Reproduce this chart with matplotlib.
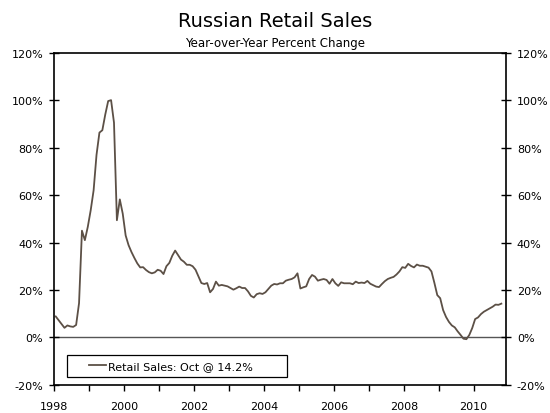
import numpy as np
import matplotlib
matplotlib.use("Agg")
import matplotlib.pyplot as plt
from matplotlib.legend_handler import HandlerLine2D
from matplotlib.ticker import FuncFormatter

# Russian retail sales, year-over-year % change, monthly Jan 1998 - Oct 2010
sales = [
    8.8, 7.2, 5.6, 4.0, 5.0, 4.6, 4.4, 5.2, 14.4, 45.0, 41.0, 46.6,          # 1998
    53.6, 62.0, 77.0, 86.4, 87.4, 94.0, 99.7, 100.1, 90.6, 49.4, 58.2, 52.2,  # 1999
    43.0, 38.9, 36.0, 33.5, 31.2, 29.5, 29.6, 28.4, 27.5, 27.0, 27.4, 28.5,   # 2000
    28.1, 26.7, 30.0, 31.4, 34.4, 36.6, 34.7, 32.8, 31.9, 30.6, 30.6, 30.0,   # 2001
    28.5, 25.7, 22.9, 22.5, 22.9, 19.0, 20.4, 23.5, 21.8, 22.1, 21.8, 21.5,   # 2002
    20.8, 20.1, 20.7, 21.4, 20.8, 20.8, 19.4, 17.5, 16.8, 18.2, 18.6, 18.3,   # 2003
    19.0, 20.4, 21.8, 22.5, 22.3, 22.8, 22.8, 23.9, 24.3, 24.6, 25.3, 27.0,   # 2004
    20.6, 21.1, 21.5, 24.6, 26.3, 25.6, 23.9, 24.3, 24.6, 24.2, 22.6, 24.6,   # 2005
    22.8, 21.7, 23.2, 22.8, 22.8, 22.8, 22.4, 23.5, 22.9, 23.1, 22.9, 23.8,   # 2006
    22.6, 22.0, 21.4, 21.2, 22.5, 23.7, 24.6, 25.1, 25.5, 26.5, 27.8, 29.6,   # 2007
    29.3, 31.0, 30.1, 29.5, 30.7, 30.2, 30.2, 29.8, 29.4, 27.8, 23.0, 17.8,   # 2008
    16.5, 11.5, 8.6, 6.5, 5.0, 4.2, 2.5, 1.0, -0.6, -0.8, 1.0, 3.9,           # 2009
    7.7, 8.4, 9.8, 10.8, 11.5, 12.2, 12.9, 13.8, 13.7, 14.2,                  # 2010
]
start_year = 1998
year_ticks = list(range(1998, 2011, 2))
pct_ticks = list(range(-20, 121, 20))
legend_label = "Retail Sales: Oct @ 14.2%"

x = start_year + (np.arange(len(sales)) + 0.5) / 12.0

line_color = "#5c5046"

plt.rcParams["font.family"] = "DejaVu Sans"


class OffsetLineHandler(HandlerLine2D):
    # draws the legend line in the right part of the handle box only
    def create_artists(self, legend, orig_handle, xdescent, ydescent,
                       width, height, fontsize, trans):
        shift = width * 0.5
        return super().create_artists(legend, orig_handle, xdescent - shift,
                                      ydescent, width - shift, height,
                                      fontsize, trans)


fig = plt.figure(figsize=(5.5, 4.14), dpi=100)
ax = fig.add_axes([0.0987, 0.0684, 0.8208, 0.8012])

ln, = ax.plot(x, sales, color=line_color, lw=1.3, label=legend_label)
ax.axhline(0, color="#555555", lw=1.0, zorder=1)

ax.set_xlim(1998, 2010 + 11 / 12)
ax.set_ylim(-20, 120)
ax.set_yticks(pct_ticks)
ax.yaxis.set_major_formatter(FuncFormatter(lambda v, p: f"{v:.0f}%"))
ax.set_xticks(year_ticks)
ax.set_xticks(range(1998, 2011), minor=True)

ax.tick_params(axis="y", which="both", direction="inout", length=7, width=1,
               left=True, right=True, labelleft=True, labelright=True,
               labelsize=8, pad=4.5, colors="black")
ax.tick_params(axis="x", which="both", direction="out", length=4, width=1,
               labelsize=8, pad=8)

for sp in ax.spines.values():
    sp.set_linewidth(1.2)
    sp.set_color("black")

leg = ax.legend(handles=[ln], loc="lower left", bbox_to_anchor=(0.0275, 0.023),
                borderaxespad=0, fontsize=8, frameon=True, fancybox=False,
                edgecolor="black", framealpha=1, handlelength=3.0,
                handletextpad=0.15, borderpad=0.55,
                handler_map={ln: OffsetLineHandler()})
leg.get_frame().set_linewidth(0.9)
for t in leg.get_texts():
    t.set_text(legend_label + "        ")

fig.text(0.5, 0.948, "Russian Retail Sales", ha="center", va="center",
         fontsize=14)
fig.text(0.5, 0.894, "Year-over-Year Percent Change", ha="center",
         va="center", fontsize=8.5)

fig.savefig("out.png", dpi=100)
